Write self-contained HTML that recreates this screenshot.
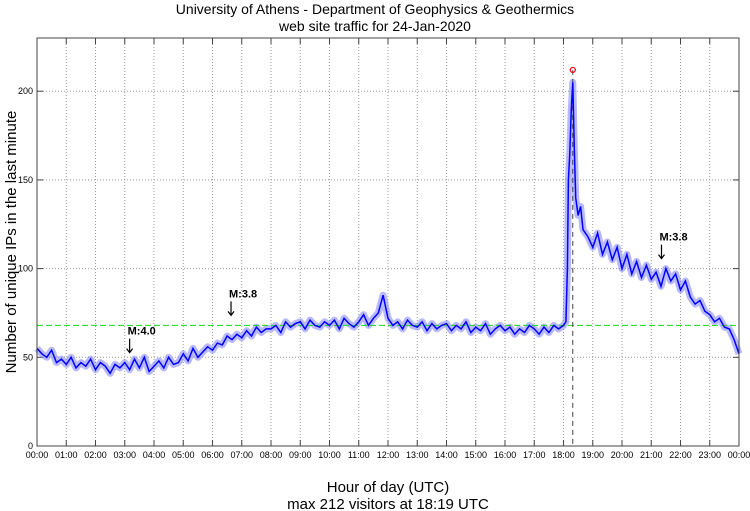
<!DOCTYPE html>
<html><head><meta charset="utf-8"><style>
body{margin:0;background:#fff;}
svg{display:block;font-family:"Liberation Sans",sans-serif;}
</style></head><body>
<svg width="750" height="511" viewBox="0 0 750 511">
<text x="375" y="14" text-anchor="middle" font-size="14">University of Athens - Department of Geophysics &amp; Geothermics</text>
<text x="375" y="31" text-anchor="middle" font-size="14">web site traffic for 24-Jan-2020</text>
<g id="grid"></g>
<g id="ticks"></g>
<g id="series"></g>
<rect x="37" y="38" width="702" height="408" fill="none" stroke="#444" stroke-width="1"/>
<text transform="translate(16,242) rotate(-90)" text-anchor="middle" font-size="15">Number of unique IPs in the last minute</text>
<text x="388" y="492" text-anchor="middle" font-size="15">Hour of day (UTC)</text>
<text x="388" y="509" text-anchor="middle" font-size="15">max 212 visitors at 18:19 UTC</text>
</svg>
<script>
const regularValues=[55,52,50,54,47,49,46,50,44,47,45,49,43,47,45,41,46,44,47,43,49,44,50,42,45,48,44,50,46,47,52,48,55,50,53,56,54,58,57,62,60,63,61,65,62,67,64,66,66,68,64,70,67,69,70,66,71,68,67,70,68,71,66,72,69,67,70,74,68,72,75,85,72,68,70,66,71,68,67,70,65,69,66,68,69,65,68,66,70,64,67,65,69,63,66,68,65,67,63,66,64,68,66,63,67,64,68,66];
const spikeTimes=[1080,1085,1088,1090,1093,1096,1099,1102,1105,1110,1115,1120,1130];
const spikeValues=[68,70,100,150,165,190,205,170,140,130,135,122,118];
const lateValues=[112,120,108,115,105,112,100,108,97,104,95,102,94,98,90,100,93,97,88,93,84,80,82,76,74,70,72,67,66,60,52];
const yTicks=[0,50,100,150,200];
const xTickLabels=["00:00","01:00","02:00","03:00","04:00","05:00","06:00","07:00","08:00","09:00","10:00","11:00","12:00","13:00","14:00","15:00","16:00","17:00","18:00","19:00","20:00","21:00","22:00","23:00","00:00"];
const meanValue=68;
const maxTime=1099, maxValue=212;
const events=[{t:190,v:47,label:"M:4.0"},{t:398,v:68,label:"M:3.8"},{t:1281,v:100,label:"M:3.8"}];

const NS="http://www.w3.org/2000/svg";
const X0=37,X1=739,Y0=446,Y1=38,YMAX=230;
const xs=m=>X0+m/1440*(X1-X0);
const ys=v=>Y0-v/YMAX*(Y0-Y1);
function mk(tag,attrs,parent){const e=document.createElementNS(NS,tag);for(const k in attrs)e.setAttribute(k,attrs[k]);parent.appendChild(e);return e;}
const grid=document.getElementById('grid'),ticks=document.getElementById('ticks'),series=document.getElementById('series');
xTickLabels.forEach((lab,i)=>{const x=xs(i*60);
 if(i>0&&i<24){const l=mk('line',{x1:x,x2:x,y1:Y1,y2:Y0,stroke:'#999','stroke-dasharray':'1,2'},grid);}
 mk('line',{x1:x,x2:x,y1:Y0,y2:Y0-6,stroke:'#444'},ticks);mk('line',{x1:x,x2:x,y1:Y1,y2:Y1+6,stroke:'#444'},ticks);
 const t=mk('text',{x:x,y:458,'text-anchor':'middle','font-size':'9'},ticks);t.textContent=lab;
 });
yTicks.forEach(v=>{const y=ys(v);
 if(v>0){const l=mk('line',{x1:X0,x2:X1,y1:y,y2:y,stroke:'#999','stroke-dasharray':'1,2'},grid);}
 mk('line',{x1:X0,x2:X0+6,y1:y,y2:y,stroke:'#444'},ticks);mk('line',{x1:X1,x2:X1-6,y1:y,y2:y,stroke:'#444'},ticks);
 const t=mk('text',{x:33,y:y+3,'text-anchor':'end','font-size':'9'},ticks);t.textContent=v;
 });
const pts=[];
regularValues.forEach((v,i)=>pts.push([i*10,v]));
spikeTimes.forEach((t,i)=>pts.push([t,spikeValues[i]]));
lateValues.forEach((v,i)=>pts.push([1140+i*10,v]));
const ptStr=pts.map(q=>xs(q[0]).toFixed(1)+','+ys(q[1]).toFixed(1)).join(' ');
const band=mk('polyline',{points:ptStr,fill:'none',stroke:'#8080ff','stroke-width':'7','stroke-linejoin':'round','stroke-opacity':'0.55'},series);

const mean=mk('line',{x1:X0,x2:X1,y1:ys(meanValue),y2:ys(meanValue),stroke:'#11dd11','stroke-dasharray':'6,3'},series);

const vl=mk('line',{x1:xs(maxTime),x2:xs(maxTime),y1:ys(maxValue),y2:Y0,stroke:'#444','stroke-dasharray':'5,4'},series);

const p=mk('polyline',{points:ptStr,fill:'none',stroke:'#0000ff','stroke-width':'1.5'},series);

const c=mk('circle',{cx:xs(maxTime),cy:ys(maxValue),r:2.5,fill:'none',stroke:'#e00','stroke-width':'1.2'},series);

events.forEach(ev=>{const x=xs(ev.t),y=ys(ev.v)-10;
 const a=mk('path',{d:`M${x},${y-14}V${y} M${x-3},${y-4}L${x},${y}L${x+3},${y-4}`,stroke:'#000',fill:'none','stroke-width':'1.2'},series);
 
 const t=mk('text',{x:x-2,y:y-18,'font-size':'11','font-weight':'bold'},series);t.textContent=ev.label;
 });
</script>
</body></html>
